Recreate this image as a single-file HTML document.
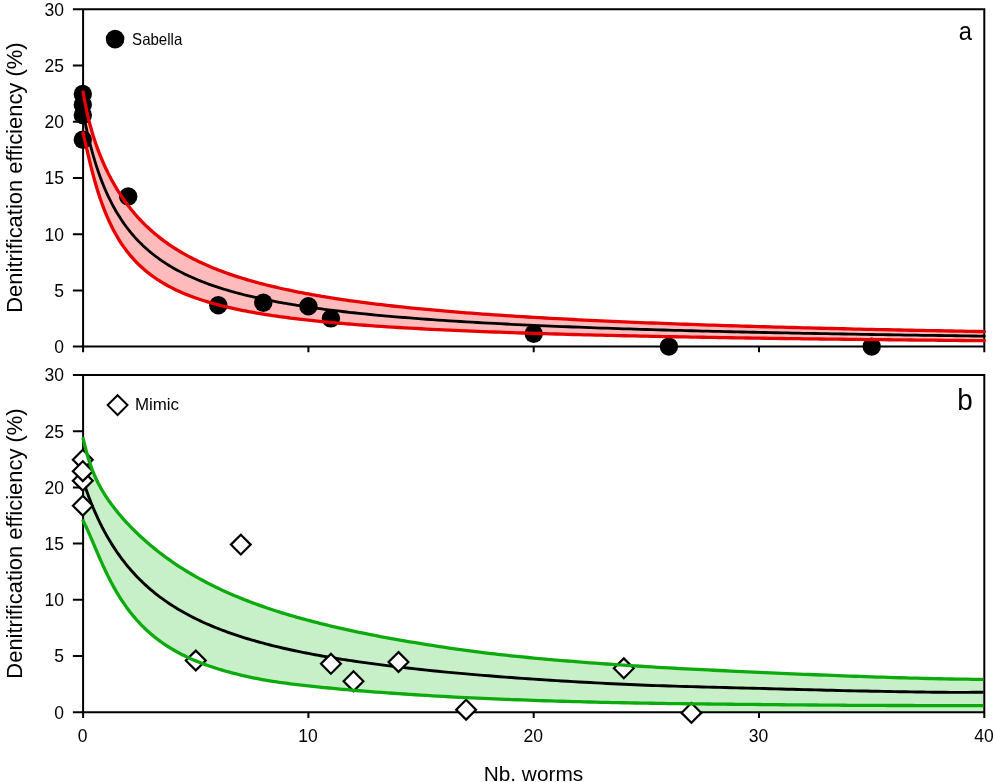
<!DOCTYPE html>
<html lang="en"><head><meta charset="utf-8"><title>Denitrification efficiency vs Nb. worms</title>
<style>html,body{margin:0;padding:0;background:#fff}body{width:995px;height:782px;overflow:hidden}svg{display:block;will-change:transform}</style></head>
<body>
<svg width="995" height="782" viewBox="0 0 995 782">
<rect width="995" height="782" fill="#fff"/>
<defs><clipPath id="clipb"><rect x="0" y="360" width="983.40" height="422"/></clipPath></defs>
<path d="M83.10 91.84L84.23 98.42L85.35 104.44L86.48 109.95L87.61 115.04L88.73 119.76L89.86 124.16L90.99 128.29L92.11 132.19L93.24 135.89L94.36 139.40L95.49 142.77L96.62 145.98L97.74 149.08L98.87 152.06L100.00 154.93L101.12 157.70L102.25 160.39L103.38 162.99L104.50 165.51L105.63 167.95L106.76 170.33L107.88 172.64L109.01 174.88L110.14 177.07L111.26 179.20L112.39 181.27L113.52 183.30L114.64 185.27L115.77 187.19L116.89 189.07L118.02 190.90L119.15 192.69L120.27 194.44L121.40 196.15L122.53 197.82L123.65 199.45L124.78 201.04L125.91 202.61L127.03 204.14L128.16 205.63L129.29 207.10L130.41 208.53L131.54 209.94L132.67 211.32L133.79 212.67L134.92 213.99L136.05 215.29L137.17 216.56L138.30 217.80L139.43 219.03L140.55 220.23L141.68 221.41L142.80 222.56L143.93 223.70L145.06 224.81L146.18 225.90L147.31 226.98L148.44 228.03L149.56 229.07L150.69 230.09L152.94 232.08L155.20 233.99L157.45 235.85L159.70 237.64L161.95 239.38L164.21 241.07L166.46 242.70L168.71 244.28L170.97 245.81L173.22 247.30L175.47 248.75L177.73 250.15L179.98 251.51L182.23 252.84L184.49 254.13L186.74 255.38L188.99 256.60L191.24 257.79L193.50 258.95L195.75 260.08L198.00 261.18L200.26 262.25L202.51 263.29L204.76 264.31L207.01 265.31L209.27 266.28L211.52 267.22L213.77 268.15L216.03 269.06L218.28 269.94L220.53 270.80L222.79 271.65L225.04 272.48L227.29 273.28L229.54 274.07L231.80 274.85L234.05 275.61L236.30 276.35L238.56 277.08L240.81 277.79L243.06 278.49L245.32 279.17L247.57 279.84L249.82 280.50L252.08 281.14L254.33 281.77L256.58 282.39L258.83 283.00L261.09 283.60L263.34 284.18L265.59 284.76L267.85 285.32L270.10 285.88L272.35 286.42L274.61 286.96L276.86 287.48L279.11 288.00L281.36 288.51L283.62 289.01L285.87 289.50L288.12 289.98L290.38 290.45L292.63 290.92L294.88 291.38L297.13 291.83L299.39 292.28L301.64 292.71L303.89 293.14L306.15 293.57L308.40 293.99L310.65 294.40L312.91 294.80L315.16 295.20L317.41 295.59L319.66 295.98L321.92 296.36L324.17 296.73L326.42 297.10L328.68 297.47L330.93 297.83L333.18 298.18L335.44 298.53L337.69 298.87L339.94 299.21L342.20 299.55L344.45 299.88L346.70 300.20L348.95 300.52L351.21 300.84L353.46 301.15L359.09 301.92L364.73 302.65L370.36 303.37L375.99 304.06L381.62 304.73L387.25 305.38L392.89 306.01L398.52 306.63L404.15 307.22L409.78 307.80L415.42 308.36L421.05 308.91L426.68 309.44L432.32 309.95L437.95 310.46L443.58 310.95L449.21 311.42L454.85 311.89L460.48 312.34L466.11 312.78L471.74 313.22L477.38 313.64L483.01 314.05L488.64 314.45L494.27 314.84L499.90 315.22L505.54 315.59L511.17 315.96L516.80 316.32L522.44 316.67L528.07 317.01L533.70 317.34L539.33 317.67L544.97 317.99L550.60 318.30L556.23 318.61L561.86 318.91L567.50 319.20L573.13 319.49L578.76 319.78L584.39 320.05L590.02 320.32L595.66 320.59L601.29 320.85L606.92 321.11L612.56 321.36L618.19 321.61L623.82 321.85L629.45 322.09L635.09 322.32L640.72 322.55L646.35 322.78L651.98 323.00L657.62 323.22L663.25 323.43L668.88 323.65L674.51 323.85L680.15 324.06L685.78 324.26L691.41 324.45L697.04 324.65L702.68 324.84L708.31 325.03L713.94 325.21L719.57 325.39L725.21 325.57L730.84 325.75L736.47 325.92L742.10 326.09L747.74 326.26L753.37 326.42L759.00 326.59L764.63 326.75L770.27 326.91L775.90 327.06L781.53 327.22L787.16 327.37L792.80 327.52L798.43 327.66L804.06 327.81L809.69 327.95L815.33 328.09L820.96 328.23L826.59 328.37L832.22 328.51L837.86 328.64L843.49 328.77L849.12 328.90L854.75 329.03L860.39 329.16L866.02 329.28L871.65 329.41L877.28 329.53L882.92 329.65L888.55 329.77L894.18 329.88L899.81 330.00L905.45 330.11L911.08 330.23L916.71 330.34L922.34 330.45L927.98 330.56L933.61 330.66L939.24 330.77L944.87 330.88L950.51 330.98L956.14 331.08L961.77 331.18L967.40 331.28L973.04 331.38L978.67 331.48L984.30 331.58L984.30 340.68L978.67 340.63L973.04 340.58L967.40 340.53L961.77 340.48L956.14 340.43L950.51 340.38L944.87 340.33L939.24 340.27L933.61 340.22L927.98 340.17L922.34 340.11L916.71 340.06L911.08 340.00L905.45 339.94L899.81 339.89L894.18 339.83L888.55 339.77L882.92 339.71L877.28 339.65L871.65 339.59L866.02 339.53L860.39 339.46L854.75 339.40L849.12 339.34L843.49 339.27L837.86 339.20L832.22 339.14L826.59 339.07L820.96 339.00L815.33 338.93L809.69 338.86L804.06 338.79L798.43 338.71L792.80 338.64L787.16 338.56L781.53 338.48L775.90 338.41L770.27 338.33L764.63 338.25L759.00 338.16L753.37 338.08L747.74 338.00L742.10 337.91L736.47 337.82L730.84 337.74L725.21 337.65L719.57 337.55L713.94 337.46L708.31 337.37L702.68 337.27L697.04 337.17L691.41 337.07L685.78 336.97L680.15 336.87L674.51 336.76L668.88 336.66L663.25 336.55L657.62 336.44L651.98 336.32L646.35 336.21L640.72 336.09L635.09 335.97L629.45 335.85L623.82 335.73L618.19 335.60L612.56 335.47L606.92 335.34L601.29 335.20L595.66 335.07L590.02 334.93L584.39 334.78L578.76 334.64L573.13 334.49L567.50 334.34L561.86 334.18L556.23 334.02L550.60 333.86L544.97 333.69L539.33 333.52L533.70 333.35L528.07 333.17L522.44 332.99L516.80 332.80L511.17 332.61L505.54 332.42L499.90 332.22L494.27 332.01L488.64 331.80L483.01 331.58L477.38 331.36L471.74 331.13L466.11 330.90L460.48 330.66L454.85 330.41L449.21 330.15L443.58 329.89L437.95 329.62L432.32 329.34L426.68 329.06L421.05 328.76L415.42 328.46L409.78 328.15L404.15 327.82L398.52 327.49L392.89 327.15L387.25 326.79L381.62 326.42L375.99 326.04L370.36 325.65L364.73 325.24L359.09 324.81L353.46 324.38L351.21 324.19L348.95 324.01L346.70 323.83L344.45 323.64L342.20 323.45L339.94 323.25L337.69 323.05L335.44 322.85L333.18 322.65L330.93 322.44L328.68 322.23L326.42 322.01L324.17 321.80L321.92 321.58L319.66 321.35L317.41 321.12L315.16 320.89L312.91 320.65L310.65 320.41L308.40 320.16L306.15 319.91L303.89 319.66L301.64 319.40L299.39 319.14L297.13 318.87L294.88 318.59L292.63 318.32L290.38 318.03L288.12 317.74L285.87 317.45L283.62 317.15L281.36 316.84L279.11 316.53L276.86 316.21L274.61 315.88L272.35 315.55L270.10 315.21L267.85 314.86L265.59 314.51L263.34 314.15L261.09 313.78L258.83 313.40L256.58 313.02L254.33 312.62L252.08 312.22L249.82 311.81L247.57 311.38L245.32 310.95L243.06 310.51L240.81 310.06L238.56 309.59L236.30 309.12L234.05 308.63L231.80 308.13L229.54 307.62L227.29 307.09L225.04 306.55L222.79 306.00L220.53 305.43L218.28 304.85L216.03 304.25L213.77 303.63L211.52 303.00L209.27 302.34L207.01 301.67L204.76 300.98L202.51 300.26L200.26 299.53L198.00 298.77L195.75 297.99L193.50 297.18L191.24 296.35L188.99 295.49L186.74 294.60L184.49 293.68L182.23 292.72L179.98 291.74L177.73 290.71L175.47 289.65L173.22 288.55L170.97 287.41L168.71 286.23L166.46 284.99L164.21 283.71L161.95 282.37L159.70 280.98L157.45 279.53L155.20 278.01L152.94 276.43L150.69 274.77L149.56 273.92L148.44 273.04L147.31 272.14L146.18 271.23L145.06 270.28L143.93 269.32L142.80 268.33L141.68 267.32L140.55 266.28L139.43 265.22L138.30 264.12L137.17 263.00L136.05 261.85L134.92 260.67L133.79 259.45L132.67 258.20L131.54 256.92L130.41 255.60L129.29 254.24L128.16 252.85L127.03 251.41L125.91 249.93L124.78 248.40L123.65 246.83L122.53 245.21L121.40 243.54L120.27 241.81L119.15 240.03L118.02 238.19L116.89 236.28L115.77 234.32L114.64 232.28L113.52 230.18L112.39 228.00L111.26 225.74L110.14 223.40L109.01 220.98L107.88 218.47L106.76 215.86L105.63 213.15L104.50 210.34L103.38 207.41L102.25 204.38L101.12 201.22L100.00 197.94L98.87 194.53L97.74 190.98L96.62 187.29L95.49 183.46L94.36 179.48L93.24 175.35L92.11 171.07L90.99 166.65L89.86 162.10L88.73 157.41L87.61 152.62L86.48 147.74L85.35 142.80L84.23 137.83L83.10 132.86Z" fill="#ffbbbb"/>
<g stroke="#000" stroke-width="2.0" fill="none" stroke-linecap="butt">
<path d="M72.9 9.3H985.3M984.3 9.3V352.2M83.1 9.3V352.2M72.9 346.6H984.3"/>
<path d="M72.9 290.4H83.1M72.9 234.2H83.1M72.9 177.9H83.1M72.9 121.7H83.1M72.9 65.5H83.1M308.4 346.6V352.2M533.7 346.6V352.2M759.0 346.6V352.2"/>
</g>
<path d="M83.10 112.35L84.23 118.12L85.35 123.62L86.48 128.84L87.61 133.83L88.73 138.58L89.86 143.13L90.99 147.47L92.11 151.63L93.24 155.62L94.36 159.44L95.49 163.11L96.62 166.64L97.74 170.03L98.87 173.29L100.00 176.43L101.12 179.46L102.25 182.38L103.38 185.20L104.50 187.92L105.63 190.55L106.76 193.09L107.88 195.55L109.01 197.93L110.14 200.24L111.26 202.47L112.39 204.64L113.52 206.74L114.64 208.78L115.77 210.75L116.89 212.68L118.02 214.54L119.15 216.36L120.27 218.12L121.40 219.84L122.53 221.51L123.65 223.14L124.78 224.72L125.91 226.27L127.03 227.77L128.16 229.24L129.29 230.67L130.41 232.07L131.54 233.43L132.67 234.76L133.79 236.06L134.92 237.33L136.05 238.57L137.17 239.78L138.30 240.96L139.43 242.12L140.55 243.25L141.68 244.36L142.80 245.45L143.93 246.51L145.06 247.55L146.18 248.56L147.31 249.56L148.44 250.54L149.56 251.49L150.69 252.43L152.94 254.25L155.20 256.00L157.45 257.69L159.70 259.31L161.95 260.88L164.21 262.39L166.46 263.84L168.71 265.25L170.97 266.61L173.22 267.93L175.47 269.20L177.73 270.43L179.98 271.62L182.23 272.78L184.49 273.90L186.74 274.99L188.99 276.05L191.24 277.07L193.50 278.07L195.75 279.03L198.00 279.97L200.26 280.89L202.51 281.78L204.76 282.64L207.01 283.49L209.27 284.31L211.52 285.11L213.77 285.89L216.03 286.65L218.28 287.39L220.53 288.12L222.79 288.82L225.04 289.51L227.29 290.19L229.54 290.85L231.80 291.49L234.05 292.12L236.30 292.73L238.56 293.33L240.81 293.92L243.06 294.50L245.32 295.06L247.57 295.61L249.82 296.15L252.08 296.68L254.33 297.20L256.58 297.70L258.83 298.20L261.09 298.69L263.34 299.17L265.59 299.63L267.85 300.09L270.10 300.54L272.35 300.99L274.61 301.42L276.86 301.85L279.11 302.26L281.36 302.67L283.62 303.08L285.87 303.47L288.12 303.86L290.38 304.24L292.63 304.62L294.88 304.99L297.13 305.35L299.39 305.71L301.64 306.06L303.89 306.40L306.15 306.74L308.40 307.07L310.65 307.40L312.91 307.73L315.16 308.04L317.41 308.36L319.66 308.66L321.92 308.97L324.17 309.27L326.42 309.56L328.68 309.85L330.93 310.13L333.18 310.41L335.44 310.69L337.69 310.96L339.94 311.23L342.20 311.50L344.45 311.76L346.70 312.01L348.95 312.27L351.21 312.52L353.46 312.76L359.09 313.37L364.73 313.95L370.36 314.51L375.99 315.05L381.62 315.58L387.25 316.09L392.89 316.58L398.52 317.06L404.15 317.52L409.78 317.97L415.42 318.41L421.05 318.84L426.68 319.25L432.32 319.65L437.95 320.04L443.58 320.42L449.21 320.79L454.85 321.15L460.48 321.50L466.11 321.84L471.74 322.17L477.38 322.50L483.01 322.81L488.64 323.12L494.27 323.42L499.90 323.72L505.54 324.01L511.17 324.29L516.80 324.56L522.44 324.83L528.07 325.09L533.70 325.35L539.33 325.60L544.97 325.84L550.60 326.08L556.23 326.32L561.86 326.55L567.50 326.77L573.13 326.99L578.76 327.21L584.39 327.42L590.02 327.63L595.66 327.83L601.29 328.03L606.92 328.22L612.56 328.42L618.19 328.60L623.82 328.79L629.45 328.97L635.09 329.15L640.72 329.32L646.35 329.49L651.98 329.66L657.62 329.83L663.25 329.99L668.88 330.15L674.51 330.31L680.15 330.46L685.78 330.61L691.41 330.76L697.04 330.91L702.68 331.05L708.31 331.20L713.94 331.34L719.57 331.47L725.21 331.61L730.84 331.74L736.47 331.87L742.10 332.00L747.74 332.13L753.37 332.25L759.00 332.38L764.63 332.50L770.27 332.62L775.90 332.73L781.53 332.85L787.16 332.96L792.80 333.08L798.43 333.19L804.06 333.30L809.69 333.41L815.33 333.51L820.96 333.62L826.59 333.72L832.22 333.82L837.86 333.92L843.49 334.02L849.12 334.12L854.75 334.22L860.39 334.31L866.02 334.40L871.65 334.50L877.28 334.59L882.92 334.68L888.55 334.77L894.18 334.86L899.81 334.94L905.45 335.03L911.08 335.11L916.71 335.20L922.34 335.28L927.98 335.36L933.61 335.44L939.24 335.52L944.87 335.60L950.51 335.68L956.14 335.76L961.77 335.83L967.40 335.91L973.04 335.98L978.67 336.05L984.30 336.13" fill="none" stroke="#000" stroke-width="2.8" stroke-linecap="round" stroke-linejoin="round"/>
<circle cx="82.8" cy="94.0" r="9.2" fill="#000"/>
<circle cx="82.8" cy="104.8" r="9.2" fill="#000"/>
<circle cx="82.8" cy="115.0" r="9.2" fill="#000"/>
<circle cx="82.8" cy="139.7" r="9.2" fill="#000"/>
<circle cx="128.2" cy="196.4" r="9.2" fill="#000"/>
<circle cx="218.3" cy="305.3" r="9.2" fill="#000"/>
<circle cx="263.3" cy="302.7" r="9.2" fill="#000"/>
<circle cx="308.4" cy="306.3" r="9.2" fill="#000"/>
<circle cx="330.9" cy="318.4" r="9.2" fill="#000"/>
<circle cx="533.7" cy="333.7" r="9.2" fill="#000"/>
<circle cx="668.9" cy="346.6" r="9.2" fill="#000"/>
<circle cx="871.7" cy="346.6" r="9.2" fill="#000"/>
<path d="M83.10 91.84L84.23 98.42L85.35 104.44L86.48 109.95L87.61 115.04L88.73 119.76L89.86 124.16L90.99 128.29L92.11 132.19L93.24 135.89L94.36 139.40L95.49 142.77L96.62 145.98L97.74 149.08L98.87 152.06L100.00 154.93L101.12 157.70L102.25 160.39L103.38 162.99L104.50 165.51L105.63 167.95L106.76 170.33L107.88 172.64L109.01 174.88L110.14 177.07L111.26 179.20L112.39 181.27L113.52 183.30L114.64 185.27L115.77 187.19L116.89 189.07L118.02 190.90L119.15 192.69L120.27 194.44L121.40 196.15L122.53 197.82L123.65 199.45L124.78 201.04L125.91 202.61L127.03 204.14L128.16 205.63L129.29 207.10L130.41 208.53L131.54 209.94L132.67 211.32L133.79 212.67L134.92 213.99L136.05 215.29L137.17 216.56L138.30 217.80L139.43 219.03L140.55 220.23L141.68 221.41L142.80 222.56L143.93 223.70L145.06 224.81L146.18 225.90L147.31 226.98L148.44 228.03L149.56 229.07L150.69 230.09L152.94 232.08L155.20 233.99L157.45 235.85L159.70 237.64L161.95 239.38L164.21 241.07L166.46 242.70L168.71 244.28L170.97 245.81L173.22 247.30L175.47 248.75L177.73 250.15L179.98 251.51L182.23 252.84L184.49 254.13L186.74 255.38L188.99 256.60L191.24 257.79L193.50 258.95L195.75 260.08L198.00 261.18L200.26 262.25L202.51 263.29L204.76 264.31L207.01 265.31L209.27 266.28L211.52 267.22L213.77 268.15L216.03 269.06L218.28 269.94L220.53 270.80L222.79 271.65L225.04 272.48L227.29 273.28L229.54 274.07L231.80 274.85L234.05 275.61L236.30 276.35L238.56 277.08L240.81 277.79L243.06 278.49L245.32 279.17L247.57 279.84L249.82 280.50L252.08 281.14L254.33 281.77L256.58 282.39L258.83 283.00L261.09 283.60L263.34 284.18L265.59 284.76L267.85 285.32L270.10 285.88L272.35 286.42L274.61 286.96L276.86 287.48L279.11 288.00L281.36 288.51L283.62 289.01L285.87 289.50L288.12 289.98L290.38 290.45L292.63 290.92L294.88 291.38L297.13 291.83L299.39 292.28L301.64 292.71L303.89 293.14L306.15 293.57L308.40 293.99L310.65 294.40L312.91 294.80L315.16 295.20L317.41 295.59L319.66 295.98L321.92 296.36L324.17 296.73L326.42 297.10L328.68 297.47L330.93 297.83L333.18 298.18L335.44 298.53L337.69 298.87L339.94 299.21L342.20 299.55L344.45 299.88L346.70 300.20L348.95 300.52L351.21 300.84L353.46 301.15L359.09 301.92L364.73 302.65L370.36 303.37L375.99 304.06L381.62 304.73L387.25 305.38L392.89 306.01L398.52 306.63L404.15 307.22L409.78 307.80L415.42 308.36L421.05 308.91L426.68 309.44L432.32 309.95L437.95 310.46L443.58 310.95L449.21 311.42L454.85 311.89L460.48 312.34L466.11 312.78L471.74 313.22L477.38 313.64L483.01 314.05L488.64 314.45L494.27 314.84L499.90 315.22L505.54 315.59L511.17 315.96L516.80 316.32L522.44 316.67L528.07 317.01L533.70 317.34L539.33 317.67L544.97 317.99L550.60 318.30L556.23 318.61L561.86 318.91L567.50 319.20L573.13 319.49L578.76 319.78L584.39 320.05L590.02 320.32L595.66 320.59L601.29 320.85L606.92 321.11L612.56 321.36L618.19 321.61L623.82 321.85L629.45 322.09L635.09 322.32L640.72 322.55L646.35 322.78L651.98 323.00L657.62 323.22L663.25 323.43L668.88 323.65L674.51 323.85L680.15 324.06L685.78 324.26L691.41 324.45L697.04 324.65L702.68 324.84L708.31 325.03L713.94 325.21L719.57 325.39L725.21 325.57L730.84 325.75L736.47 325.92L742.10 326.09L747.74 326.26L753.37 326.42L759.00 326.59L764.63 326.75L770.27 326.91L775.90 327.06L781.53 327.22L787.16 327.37L792.80 327.52L798.43 327.66L804.06 327.81L809.69 327.95L815.33 328.09L820.96 328.23L826.59 328.37L832.22 328.51L837.86 328.64L843.49 328.77L849.12 328.90L854.75 329.03L860.39 329.16L866.02 329.28L871.65 329.41L877.28 329.53L882.92 329.65L888.55 329.77L894.18 329.88L899.81 330.00L905.45 330.11L911.08 330.23L916.71 330.34L922.34 330.45L927.98 330.56L933.61 330.66L939.24 330.77L944.87 330.88L950.51 330.98L956.14 331.08L961.77 331.18L967.40 331.28L973.04 331.38L978.67 331.48L984.30 331.58" fill="none" stroke="#e60000" stroke-width="3.3" stroke-linecap="round" stroke-linejoin="round"/>
<path d="M83.10 132.86L84.23 137.83L85.35 142.80L86.48 147.74L87.61 152.62L88.73 157.41L89.86 162.10L90.99 166.65L92.11 171.07L93.24 175.35L94.36 179.48L95.49 183.46L96.62 187.29L97.74 190.98L98.87 194.53L100.00 197.94L101.12 201.22L102.25 204.38L103.38 207.41L104.50 210.34L105.63 213.15L106.76 215.86L107.88 218.47L109.01 220.98L110.14 223.40L111.26 225.74L112.39 228.00L113.52 230.18L114.64 232.28L115.77 234.32L116.89 236.28L118.02 238.19L119.15 240.03L120.27 241.81L121.40 243.54L122.53 245.21L123.65 246.83L124.78 248.40L125.91 249.93L127.03 251.41L128.16 252.85L129.29 254.24L130.41 255.60L131.54 256.92L132.67 258.20L133.79 259.45L134.92 260.67L136.05 261.85L137.17 263.00L138.30 264.12L139.43 265.22L140.55 266.28L141.68 267.32L142.80 268.33L143.93 269.32L145.06 270.28L146.18 271.23L147.31 272.14L148.44 273.04L149.56 273.92L150.69 274.77L152.94 276.43L155.20 278.01L157.45 279.53L159.70 280.98L161.95 282.37L164.21 283.71L166.46 284.99L168.71 286.23L170.97 287.41L173.22 288.55L175.47 289.65L177.73 290.71L179.98 291.74L182.23 292.72L184.49 293.68L186.74 294.60L188.99 295.49L191.24 296.35L193.50 297.18L195.75 297.99L198.00 298.77L200.26 299.53L202.51 300.26L204.76 300.98L207.01 301.67L209.27 302.34L211.52 303.00L213.77 303.63L216.03 304.25L218.28 304.85L220.53 305.43L222.79 306.00L225.04 306.55L227.29 307.09L229.54 307.62L231.80 308.13L234.05 308.63L236.30 309.12L238.56 309.59L240.81 310.06L243.06 310.51L245.32 310.95L247.57 311.38L249.82 311.81L252.08 312.22L254.33 312.62L256.58 313.02L258.83 313.40L261.09 313.78L263.34 314.15L265.59 314.51L267.85 314.86L270.10 315.21L272.35 315.55L274.61 315.88L276.86 316.21L279.11 316.53L281.36 316.84L283.62 317.15L285.87 317.45L288.12 317.74L290.38 318.03L292.63 318.32L294.88 318.59L297.13 318.87L299.39 319.14L301.64 319.40L303.89 319.66L306.15 319.91L308.40 320.16L310.65 320.41L312.91 320.65L315.16 320.89L317.41 321.12L319.66 321.35L321.92 321.58L324.17 321.80L326.42 322.01L328.68 322.23L330.93 322.44L333.18 322.65L335.44 322.85L337.69 323.05L339.94 323.25L342.20 323.45L344.45 323.64L346.70 323.83L348.95 324.01L351.21 324.19L353.46 324.38L359.09 324.81L364.73 325.24L370.36 325.65L375.99 326.04L381.62 326.42L387.25 326.79L392.89 327.15L398.52 327.49L404.15 327.82L409.78 328.15L415.42 328.46L421.05 328.76L426.68 329.06L432.32 329.34L437.95 329.62L443.58 329.89L449.21 330.15L454.85 330.41L460.48 330.66L466.11 330.90L471.74 331.13L477.38 331.36L483.01 331.58L488.64 331.80L494.27 332.01L499.90 332.22L505.54 332.42L511.17 332.61L516.80 332.80L522.44 332.99L528.07 333.17L533.70 333.35L539.33 333.52L544.97 333.69L550.60 333.86L556.23 334.02L561.86 334.18L567.50 334.34L573.13 334.49L578.76 334.64L584.39 334.78L590.02 334.93L595.66 335.07L601.29 335.20L606.92 335.34L612.56 335.47L618.19 335.60L623.82 335.73L629.45 335.85L635.09 335.97L640.72 336.09L646.35 336.21L651.98 336.32L657.62 336.44L663.25 336.55L668.88 336.66L674.51 336.76L680.15 336.87L685.78 336.97L691.41 337.07L697.04 337.17L702.68 337.27L708.31 337.37L713.94 337.46L719.57 337.55L725.21 337.65L730.84 337.74L736.47 337.82L742.10 337.91L747.74 338.00L753.37 338.08L759.00 338.16L764.63 338.25L770.27 338.33L775.90 338.41L781.53 338.48L787.16 338.56L792.80 338.64L798.43 338.71L804.06 338.79L809.69 338.86L815.33 338.93L820.96 339.00L826.59 339.07L832.22 339.14L837.86 339.20L843.49 339.27L849.12 339.34L854.75 339.40L860.39 339.46L866.02 339.53L871.65 339.59L877.28 339.65L882.92 339.71L888.55 339.77L894.18 339.83L899.81 339.89L905.45 339.94L911.08 340.00L916.71 340.06L922.34 340.11L927.98 340.17L933.61 340.22L939.24 340.27L944.87 340.33L950.51 340.38L956.14 340.43L961.77 340.48L967.40 340.53L973.04 340.58L978.67 340.63L984.30 340.68" fill="none" stroke="#e60000" stroke-width="3.3" stroke-linecap="round" stroke-linejoin="round"/>
<g font-family="'Liberation Sans', Arial, sans-serif" font-size="17.5" fill="#000" text-anchor="end">
<text x="64" y="352.9">0</text>
<text x="64" y="296.7">5</text>
<text x="64" y="240.5">10</text>
<text x="64" y="184.2">15</text>
<text x="64" y="128.0">20</text>
<text x="64" y="71.8">25</text>
<text x="64" y="15.6">30</text>
</g>
<text transform="translate(21.9 177.6) rotate(-90)" font-family="'Liberation Sans', Arial, sans-serif" font-size="21.95" text-anchor="middle" fill="#000">Denitrification efficiency (%)</text>
<path d="M83.10 438.39L84.23 443.24L85.35 447.77L86.48 452.00L87.61 455.95L88.73 459.65L89.86 463.11L90.99 466.35L92.11 469.39L93.24 472.26L94.36 474.96L95.49 477.52L96.62 479.94L97.74 482.25L98.87 484.46L100.00 486.56L101.12 488.59L102.25 490.54L103.38 492.42L104.50 494.24L105.63 496.00L106.76 497.71L107.88 499.37L109.01 500.99L110.14 502.57L111.26 504.12L112.39 505.63L113.52 507.11L114.64 508.56L115.77 509.99L116.89 511.38L118.02 512.76L119.15 514.11L120.27 515.44L121.40 516.75L122.53 518.04L123.65 519.31L124.78 520.56L125.91 521.80L127.03 523.01L128.16 524.22L129.29 525.40L130.41 526.57L131.54 527.73L132.67 528.87L133.79 530.00L134.92 531.11L136.05 532.21L137.17 533.30L138.30 534.38L139.43 535.44L140.55 536.49L141.68 537.53L142.80 538.55L143.93 539.57L145.06 540.57L146.18 541.57L147.31 542.55L148.44 543.52L149.56 544.48L150.69 545.43L152.94 547.31L155.20 549.14L157.45 550.93L159.70 552.69L161.95 554.41L164.21 556.10L166.46 557.75L168.71 559.37L170.97 560.96L173.22 562.52L175.47 564.05L177.73 565.55L179.98 567.02L182.23 568.46L184.49 569.88L186.74 571.27L188.99 572.63L191.24 573.97L193.50 575.28L195.75 576.57L198.00 577.84L200.26 579.09L202.51 580.31L204.76 581.51L207.01 582.69L209.27 583.85L211.52 584.99L213.77 586.12L216.03 587.22L218.28 588.30L220.53 589.37L222.79 590.41L225.04 591.45L227.29 592.46L229.54 593.46L231.80 594.44L234.05 595.40L236.30 596.35L238.56 597.29L240.81 598.21L243.06 599.12L245.32 600.01L247.57 600.89L249.82 601.75L252.08 602.61L254.33 603.45L256.58 604.27L258.83 605.09L261.09 605.89L263.34 606.68L265.59 607.46L267.85 608.23L270.10 608.99L272.35 609.73L274.61 610.47L276.86 611.20L279.11 611.91L281.36 612.62L283.62 613.31L285.87 614.00L288.12 614.68L290.38 615.34L292.63 616.00L294.88 616.65L297.13 617.30L299.39 617.93L301.64 618.55L303.89 619.17L306.15 619.78L308.40 620.38L310.65 620.97L312.91 621.56L315.16 622.14L317.41 622.71L319.66 623.28L321.92 623.85L324.17 624.40L326.42 624.95L328.68 625.50L330.93 626.04L333.18 626.57L335.44 627.10L337.69 627.62L339.94 628.13L342.20 628.65L344.45 629.15L346.70 629.65L348.95 630.15L351.21 630.64L353.46 631.12L359.09 632.32L364.73 633.48L370.36 634.61L375.99 635.71L381.62 636.79L387.25 637.84L392.89 638.86L398.52 639.85L404.15 640.83L409.78 641.79L415.42 642.73L421.05 643.66L426.68 644.57L432.32 645.46L437.95 646.34L443.58 647.20L449.21 648.04L454.85 648.85L460.48 649.65L466.11 650.43L471.74 651.19L477.38 651.92L483.01 652.63L488.64 653.31L494.27 653.97L499.90 654.60L505.54 655.22L511.17 655.81L516.80 656.39L522.44 656.96L528.07 657.51L533.70 658.05L539.33 658.57L544.97 659.08L550.60 659.58L556.23 660.07L561.86 660.55L567.50 661.01L573.13 661.47L578.76 661.91L584.39 662.35L590.02 662.78L595.66 663.20L601.29 663.61L606.92 664.01L612.56 664.41L618.19 664.80L623.82 665.18L629.45 665.55L635.09 665.92L640.72 666.27L646.35 666.62L651.98 666.96L657.62 667.29L663.25 667.61L668.88 667.92L674.51 668.23L680.15 668.53L685.78 668.83L691.41 669.12L697.04 669.40L702.68 669.68L708.31 669.96L713.94 670.23L719.57 670.50L725.21 670.77L730.84 671.03L736.47 671.29L742.10 671.55L747.74 671.81L753.37 672.06L759.00 672.32L764.63 672.57L770.27 672.82L775.90 673.07L781.53 673.32L787.16 673.56L792.80 673.81L798.43 674.05L804.06 674.28L809.69 674.52L815.33 674.75L820.96 674.98L826.59 675.20L832.22 675.42L837.86 675.64L843.49 675.85L849.12 676.06L854.75 676.26L860.39 676.46L866.02 676.66L871.65 676.85L877.28 677.03L882.92 677.21L888.55 677.39L894.18 677.56L899.81 677.73L905.45 677.89L911.08 678.05L916.71 678.20L922.34 678.35L927.98 678.49L933.61 678.63L939.24 678.76L944.87 678.88L950.51 678.98L956.14 679.07L961.77 679.15L967.40 679.22L973.04 679.28L978.67 679.34L984.30 679.39L984.30 712.30L699.30 712.30L691.41 703.82L685.78 703.75L680.15 703.68L674.51 703.60L668.88 703.53L663.25 703.45L657.62 703.36L651.98 703.27L646.35 703.18L640.72 703.09L635.09 702.99L629.45 702.88L623.82 702.77L618.19 702.65L612.56 702.53L606.92 702.41L601.29 702.28L595.66 702.15L590.02 702.01L584.39 701.86L578.76 701.72L573.13 701.56L567.50 701.40L561.86 701.24L556.23 701.08L550.60 700.90L544.97 700.73L539.33 700.55L533.70 700.36L528.07 700.17L522.44 699.97L516.80 699.77L511.17 699.56L505.54 699.35L499.90 699.13L494.27 698.91L488.64 698.68L483.01 698.44L477.38 698.19L471.74 697.93L466.11 697.66L460.48 697.37L454.85 697.07L449.21 696.77L443.58 696.45L437.95 696.13L432.32 695.79L426.68 695.45L421.05 695.10L415.42 694.75L409.78 694.38L404.15 694.01L398.52 693.63L392.89 693.25L387.25 692.86L381.62 692.46L375.99 692.06L370.36 691.64L364.73 691.21L359.09 690.76L353.46 690.30L351.21 690.10L348.95 689.91L346.70 689.71L344.45 689.51L342.20 689.30L339.94 689.09L337.69 688.88L335.44 688.66L333.18 688.44L330.93 688.22L328.68 687.99L326.42 687.75L324.17 687.52L321.92 687.27L319.66 687.03L317.41 686.78L315.16 686.54L312.91 686.29L310.65 686.05L308.40 685.81L306.15 685.57L303.89 685.32L301.64 685.07L299.39 684.82L297.13 684.57L294.88 684.31L292.63 684.05L290.38 683.78L288.12 683.50L285.87 683.22L283.62 682.93L281.36 682.62L279.11 682.31L276.86 681.99L274.61 681.65L272.35 681.30L270.10 680.94L267.85 680.56L265.59 680.17L263.34 679.76L261.09 679.34L258.83 678.91L256.58 678.47L254.33 678.01L252.08 677.55L249.82 677.07L247.57 676.59L245.32 676.09L243.06 675.58L240.81 675.05L238.56 674.51L236.30 673.96L234.05 673.39L231.80 672.81L229.54 672.21L227.29 671.60L225.04 670.97L222.79 670.32L220.53 669.65L218.28 668.97L216.03 668.26L213.77 667.54L211.52 666.79L209.27 666.02L207.01 665.23L204.76 664.41L202.51 663.57L200.26 662.70L198.00 661.81L195.75 660.88L193.50 659.93L191.24 658.94L188.99 657.93L186.74 656.87L184.49 655.79L182.23 654.66L179.98 653.50L177.73 652.29L175.47 651.04L173.22 649.75L170.97 648.41L168.71 647.01L166.46 645.57L164.21 644.07L161.95 642.51L159.70 640.89L157.45 639.21L155.20 637.46L152.94 635.63L150.69 633.73L149.56 632.75L148.44 631.75L147.31 630.73L146.18 629.69L145.06 628.62L143.93 627.53L142.80 626.42L141.68 625.28L140.55 624.12L139.43 622.93L138.30 621.72L137.17 620.48L136.05 619.21L134.92 617.91L133.79 616.59L132.67 615.23L131.54 613.84L130.41 612.42L129.29 610.97L128.16 609.48L127.03 607.96L125.91 606.40L124.78 604.81L123.65 603.18L122.53 601.51L121.40 599.80L120.27 598.05L119.15 596.26L118.02 594.42L116.89 592.55L115.77 590.63L114.64 588.66L113.52 586.65L112.39 584.58L111.26 582.47L110.14 580.31L109.01 578.10L107.88 575.85L106.76 573.54L105.63 571.19L104.50 568.79L103.38 566.36L102.25 563.88L101.12 561.36L100.00 558.81L98.87 556.22L97.74 553.62L96.62 550.99L95.49 548.36L94.36 545.73L93.24 543.08L92.11 540.44L90.99 537.80L89.86 535.18L88.73 532.61L87.61 530.09L86.48 527.65L85.35 525.30L84.23 523.06L83.10 520.94Z" fill="#c8f0c8"/>
<g stroke="#000" stroke-width="2.0" fill="none" stroke-linecap="butt">
<path d="M72.9 374.9H985.3M984.3 374.9V717.9M83.1 374.9V717.9M72.9 712.3H984.3"/>
<path d="M72.9 656.1H83.1M72.9 599.8H83.1M72.9 543.6H83.1M72.9 487.4H83.1M72.9 431.2H83.1M308.4 712.3V717.9M533.7 712.3V717.9M759.0 712.3V717.9"/>
</g>
<path d="M83.10 480.61L84.23 484.01L85.35 487.31L86.48 490.51L87.61 493.62L88.73 496.65L89.86 499.59L90.99 502.45L92.11 505.24L93.24 507.95L94.36 510.59L95.49 513.17L96.62 515.67L97.74 518.12L98.87 520.50L100.00 522.83L101.12 525.10L102.25 527.32L103.38 529.48L104.50 531.60L105.63 533.66L106.76 535.68L107.88 537.65L109.01 539.58L110.14 541.47L111.26 543.31L112.39 545.12L113.52 546.88L114.64 548.61L115.77 550.31L116.89 551.97L118.02 553.59L119.15 555.18L120.27 556.74L121.40 558.27L122.53 559.77L123.65 561.24L124.78 562.68L125.91 564.10L127.03 565.49L128.16 566.85L129.29 568.19L130.41 569.50L131.54 570.79L132.67 572.05L133.79 573.29L134.92 574.51L136.05 575.71L137.17 576.89L138.30 578.05L139.43 579.19L140.55 580.31L141.68 581.41L142.80 582.49L143.93 583.55L145.06 584.60L146.18 585.63L147.31 586.64L148.44 587.64L149.56 588.62L150.69 589.58L152.94 591.47L155.20 593.30L157.45 595.07L159.70 596.79L161.95 598.46L164.21 600.08L166.46 601.66L168.71 603.19L170.97 604.68L173.22 606.13L175.47 607.55L177.73 608.92L179.98 610.26L182.23 611.56L184.49 612.83L186.74 614.07L188.99 615.28L191.24 616.46L193.50 617.61L195.75 618.73L198.00 619.82L200.26 620.89L202.51 621.94L204.76 622.96L207.01 623.96L209.27 624.94L211.52 625.89L213.77 626.83L216.03 627.74L218.28 628.63L220.53 629.51L222.79 630.37L225.04 631.21L227.29 632.03L229.54 632.83L231.80 633.62L234.05 634.40L236.30 635.16L238.56 635.90L240.81 636.63L243.06 637.35L245.32 638.05L247.57 638.74L249.82 639.41L252.08 640.08L254.33 640.73L256.58 641.37L258.83 642.00L261.09 642.62L263.34 643.22L265.59 643.82L267.85 644.40L270.10 644.98L272.35 645.55L274.61 646.10L276.86 646.65L279.11 647.19L281.36 647.72L283.62 648.24L285.87 648.75L288.12 649.25L290.38 649.75L292.63 650.24L294.88 650.72L297.13 651.19L299.39 651.66L301.64 652.12L303.89 652.57L306.15 653.01L308.40 653.45L310.65 653.88L312.91 654.31L315.16 654.73L317.41 655.14L319.66 655.55L321.92 655.95L324.17 656.35L326.42 656.74L328.68 657.12L330.93 657.50L333.18 657.88L335.44 658.24L337.69 658.61L339.94 658.97L342.20 659.32L344.45 659.67L346.70 660.02L348.95 660.36L351.21 660.69L353.46 661.03L359.09 661.84L364.73 662.63L370.36 663.40L375.99 664.15L381.62 664.88L387.25 665.59L392.89 666.28L398.52 666.96L404.15 667.62L409.78 668.26L415.42 668.89L421.05 669.51L426.68 670.11L432.32 670.69L437.95 671.26L443.58 671.82L449.21 672.36L454.85 672.89L460.48 673.41L466.11 673.92L471.74 674.41L477.38 674.89L483.01 675.36L488.64 675.82L494.27 676.26L499.90 676.70L505.54 677.12L511.17 677.54L516.80 677.94L522.44 678.35L528.07 678.74L533.70 679.12L539.33 679.50L544.97 679.87L550.60 680.24L556.23 680.59L561.86 680.94L567.50 681.28L573.13 681.61L578.76 681.94L584.39 682.26L590.02 682.57L595.66 682.87L601.29 683.17L606.92 683.46L612.56 683.74L618.19 684.01L623.82 684.27L629.45 684.53L635.09 684.77L640.72 685.00L646.35 685.22L651.98 685.43L657.62 685.63L663.25 685.82L668.88 686.00L674.51 686.17L680.15 686.34L685.78 686.51L691.41 686.66L697.04 686.82L702.68 686.97L708.31 687.11L713.94 687.26L719.57 687.40L725.21 687.54L730.84 687.68L736.47 687.83L742.10 687.97L747.74 688.12L753.37 688.26L759.00 688.42L764.63 688.57L770.27 688.72L775.90 688.88L781.53 689.03L787.16 689.18L792.80 689.32L798.43 689.47L804.06 689.62L809.69 689.76L815.33 689.90L820.96 690.04L826.59 690.18L832.22 690.31L837.86 690.45L843.49 690.58L849.12 690.70L854.75 690.83L860.39 690.95L866.02 691.06L871.65 691.18L877.28 691.29L882.92 691.40L888.55 691.50L894.18 691.60L899.81 691.70L905.45 691.80L911.08 691.89L916.71 691.97L922.34 692.05L927.98 692.13L933.61 692.20L939.24 692.26L944.87 692.31L950.51 692.34L956.14 692.35L961.77 692.35L967.40 692.33L973.04 692.31L978.67 692.28L984.30 692.24" fill="none" stroke="#000" stroke-width="2.9" stroke-linecap="round" stroke-linejoin="round" clip-path="url(#clipb)"/>
<path d="M82.8 449.8L92.7 459.7L82.8 469.6L72.9 459.7Z" fill="#fff" stroke="#000" stroke-width="2.2"/>
<path d="M82.8 470.8L92.7 480.7L82.8 490.6L72.9 480.7Z" fill="#fff" stroke="#000" stroke-width="2.2"/>
<path d="M82.8 461.3L92.7 471.2L82.8 481.1L72.9 471.2Z" fill="#fff" stroke="#000" stroke-width="2.2"/>
<path d="M82.8 495.8L92.7 505.7L82.8 515.6L72.9 505.7Z" fill="#fff" stroke="#000" stroke-width="2.2"/>
<path d="M195.8 650.6L205.7 660.5L195.8 670.4L185.8 660.5Z" fill="#fff" stroke="#000" stroke-width="2.2"/>
<path d="M240.8 534.7L250.7 544.6L240.8 554.5L230.9 544.6Z" fill="#fff" stroke="#000" stroke-width="2.2"/>
<path d="M330.9 653.9L340.8 663.8L330.9 673.7L321.0 663.8Z" fill="#fff" stroke="#000" stroke-width="2.2"/>
<path d="M353.5 671.3L363.4 681.2L353.5 691.1L343.6 681.2Z" fill="#fff" stroke="#000" stroke-width="2.2"/>
<path d="M398.5 652.1L408.4 662.0L398.5 671.9L388.6 662.0Z" fill="#fff" stroke="#000" stroke-width="2.2"/>
<path d="M466.1 699.8L476.0 709.7L466.1 719.6L456.2 709.7Z" fill="#fff" stroke="#000" stroke-width="2.2"/>
<path d="M623.8 658.4L633.7 668.3L623.8 678.2L613.9 668.3Z" fill="#fff" stroke="#000" stroke-width="2.2"/>
<path d="M691.4 703.0L701.3 712.9L691.4 722.8L681.5 712.9Z" fill="#fff" stroke="#000" stroke-width="2.2"/>
<path d="M83.10 438.39L84.23 443.24L85.35 447.77L86.48 452.00L87.61 455.95L88.73 459.65L89.86 463.11L90.99 466.35L92.11 469.39L93.24 472.26L94.36 474.96L95.49 477.52L96.62 479.94L97.74 482.25L98.87 484.46L100.00 486.56L101.12 488.59L102.25 490.54L103.38 492.42L104.50 494.24L105.63 496.00L106.76 497.71L107.88 499.37L109.01 500.99L110.14 502.57L111.26 504.12L112.39 505.63L113.52 507.11L114.64 508.56L115.77 509.99L116.89 511.38L118.02 512.76L119.15 514.11L120.27 515.44L121.40 516.75L122.53 518.04L123.65 519.31L124.78 520.56L125.91 521.80L127.03 523.01L128.16 524.22L129.29 525.40L130.41 526.57L131.54 527.73L132.67 528.87L133.79 530.00L134.92 531.11L136.05 532.21L137.17 533.30L138.30 534.38L139.43 535.44L140.55 536.49L141.68 537.53L142.80 538.55L143.93 539.57L145.06 540.57L146.18 541.57L147.31 542.55L148.44 543.52L149.56 544.48L150.69 545.43L152.94 547.31L155.20 549.14L157.45 550.93L159.70 552.69L161.95 554.41L164.21 556.10L166.46 557.75L168.71 559.37L170.97 560.96L173.22 562.52L175.47 564.05L177.73 565.55L179.98 567.02L182.23 568.46L184.49 569.88L186.74 571.27L188.99 572.63L191.24 573.97L193.50 575.28L195.75 576.57L198.00 577.84L200.26 579.09L202.51 580.31L204.76 581.51L207.01 582.69L209.27 583.85L211.52 584.99L213.77 586.12L216.03 587.22L218.28 588.30L220.53 589.37L222.79 590.41L225.04 591.45L227.29 592.46L229.54 593.46L231.80 594.44L234.05 595.40L236.30 596.35L238.56 597.29L240.81 598.21L243.06 599.12L245.32 600.01L247.57 600.89L249.82 601.75L252.08 602.61L254.33 603.45L256.58 604.27L258.83 605.09L261.09 605.89L263.34 606.68L265.59 607.46L267.85 608.23L270.10 608.99L272.35 609.73L274.61 610.47L276.86 611.20L279.11 611.91L281.36 612.62L283.62 613.31L285.87 614.00L288.12 614.68L290.38 615.34L292.63 616.00L294.88 616.65L297.13 617.30L299.39 617.93L301.64 618.55L303.89 619.17L306.15 619.78L308.40 620.38L310.65 620.97L312.91 621.56L315.16 622.14L317.41 622.71L319.66 623.28L321.92 623.85L324.17 624.40L326.42 624.95L328.68 625.50L330.93 626.04L333.18 626.57L335.44 627.10L337.69 627.62L339.94 628.13L342.20 628.65L344.45 629.15L346.70 629.65L348.95 630.15L351.21 630.64L353.46 631.12L359.09 632.32L364.73 633.48L370.36 634.61L375.99 635.71L381.62 636.79L387.25 637.84L392.89 638.86L398.52 639.85L404.15 640.83L409.78 641.79L415.42 642.73L421.05 643.66L426.68 644.57L432.32 645.46L437.95 646.34L443.58 647.20L449.21 648.04L454.85 648.85L460.48 649.65L466.11 650.43L471.74 651.19L477.38 651.92L483.01 652.63L488.64 653.31L494.27 653.97L499.90 654.60L505.54 655.22L511.17 655.81L516.80 656.39L522.44 656.96L528.07 657.51L533.70 658.05L539.33 658.57L544.97 659.08L550.60 659.58L556.23 660.07L561.86 660.55L567.50 661.01L573.13 661.47L578.76 661.91L584.39 662.35L590.02 662.78L595.66 663.20L601.29 663.61L606.92 664.01L612.56 664.41L618.19 664.80L623.82 665.18L629.45 665.55L635.09 665.92L640.72 666.27L646.35 666.62L651.98 666.96L657.62 667.29L663.25 667.61L668.88 667.92L674.51 668.23L680.15 668.53L685.78 668.83L691.41 669.12L697.04 669.40L702.68 669.68L708.31 669.96L713.94 670.23L719.57 670.50L725.21 670.77L730.84 671.03L736.47 671.29L742.10 671.55L747.74 671.81L753.37 672.06L759.00 672.32L764.63 672.57L770.27 672.82L775.90 673.07L781.53 673.32L787.16 673.56L792.80 673.81L798.43 674.05L804.06 674.28L809.69 674.52L815.33 674.75L820.96 674.98L826.59 675.20L832.22 675.42L837.86 675.64L843.49 675.85L849.12 676.06L854.75 676.26L860.39 676.46L866.02 676.66L871.65 676.85L877.28 677.03L882.92 677.21L888.55 677.39L894.18 677.56L899.81 677.73L905.45 677.89L911.08 678.05L916.71 678.20L922.34 678.35L927.98 678.49L933.61 678.63L939.24 678.76L944.87 678.88L950.51 678.98L956.14 679.07L961.77 679.15L967.40 679.22L973.04 679.28L978.67 679.34L984.30 679.39" fill="none" stroke="#0caa0c" stroke-width="3.3" stroke-linecap="round" stroke-linejoin="round" clip-path="url(#clipb)"/>
<path d="M83.10 520.94L84.23 523.06L85.35 525.30L86.48 527.65L87.61 530.09L88.73 532.61L89.86 535.18L90.99 537.80L92.11 540.44L93.24 543.08L94.36 545.73L95.49 548.36L96.62 550.99L97.74 553.62L98.87 556.22L100.00 558.81L101.12 561.36L102.25 563.88L103.38 566.36L104.50 568.79L105.63 571.19L106.76 573.54L107.88 575.85L109.01 578.10L110.14 580.31L111.26 582.47L112.39 584.58L113.52 586.65L114.64 588.66L115.77 590.63L116.89 592.55L118.02 594.42L119.15 596.26L120.27 598.05L121.40 599.80L122.53 601.51L123.65 603.18L124.78 604.81L125.91 606.40L127.03 607.96L128.16 609.48L129.29 610.97L130.41 612.42L131.54 613.84L132.67 615.23L133.79 616.59L134.92 617.91L136.05 619.21L137.17 620.48L138.30 621.72L139.43 622.93L140.55 624.12L141.68 625.28L142.80 626.42L143.93 627.53L145.06 628.62L146.18 629.69L147.31 630.73L148.44 631.75L149.56 632.75L150.69 633.73L152.94 635.63L155.20 637.46L157.45 639.21L159.70 640.89L161.95 642.51L164.21 644.07L166.46 645.57L168.71 647.01L170.97 648.41L173.22 649.75L175.47 651.04L177.73 652.29L179.98 653.50L182.23 654.66L184.49 655.79L186.74 656.87L188.99 657.93L191.24 658.94L193.50 659.93L195.75 660.88L198.00 661.81L200.26 662.70L202.51 663.57L204.76 664.41L207.01 665.23L209.27 666.02L211.52 666.79L213.77 667.54L216.03 668.26L218.28 668.97L220.53 669.65L222.79 670.32L225.04 670.97L227.29 671.60L229.54 672.21L231.80 672.81L234.05 673.39L236.30 673.96L238.56 674.51L240.81 675.05L243.06 675.58L245.32 676.09L247.57 676.59L249.82 677.07L252.08 677.55L254.33 678.01L256.58 678.47L258.83 678.91L261.09 679.34L263.34 679.76L265.59 680.17L267.85 680.56L270.10 680.94L272.35 681.30L274.61 681.65L276.86 681.99L279.11 682.31L281.36 682.62L283.62 682.93L285.87 683.22L288.12 683.50L290.38 683.78L292.63 684.05L294.88 684.31L297.13 684.57L299.39 684.82L301.64 685.07L303.89 685.32L306.15 685.57L308.40 685.81L310.65 686.05L312.91 686.29L315.16 686.54L317.41 686.78L319.66 687.03L321.92 687.27L324.17 687.52L326.42 687.75L328.68 687.99L330.93 688.22L333.18 688.44L335.44 688.66L337.69 688.88L339.94 689.09L342.20 689.30L344.45 689.51L346.70 689.71L348.95 689.91L351.21 690.10L353.46 690.30L359.09 690.76L364.73 691.21L370.36 691.64L375.99 692.06L381.62 692.46L387.25 692.86L392.89 693.25L398.52 693.63L404.15 694.01L409.78 694.38L415.42 694.75L421.05 695.10L426.68 695.45L432.32 695.79L437.95 696.13L443.58 696.45L449.21 696.77L454.85 697.07L460.48 697.37L466.11 697.66L471.74 697.93L477.38 698.19L483.01 698.44L488.64 698.68L494.27 698.91L499.90 699.13L505.54 699.35L511.17 699.56L516.80 699.77L522.44 699.97L528.07 700.17L533.70 700.36L539.33 700.55L544.97 700.73L550.60 700.90L556.23 701.08L561.86 701.24L567.50 701.40L573.13 701.56L578.76 701.72L584.39 701.86L590.02 702.01L595.66 702.15L601.29 702.28L606.92 702.41L612.56 702.53L618.19 702.65L623.82 702.77L629.45 702.88L635.09 702.99L640.72 703.09L646.35 703.18L651.98 703.27L657.62 703.36L663.25 703.45L668.88 703.53L674.51 703.60L680.15 703.68L685.78 703.75L691.41 703.82L697.04 703.88L702.68 703.95L708.31 704.01L713.94 704.07L719.57 704.13L725.21 704.18L730.84 704.24L736.47 704.30L742.10 704.35L747.74 704.41L753.37 704.46L759.00 704.51L764.63 704.57L770.27 704.62L775.90 704.68L781.53 704.73L787.16 704.78L792.80 704.83L798.43 704.88L804.06 704.93L809.69 704.98L815.33 705.02L820.96 705.07L826.59 705.11L832.22 705.16L837.86 705.20L843.49 705.24L849.12 705.28L854.75 705.31L860.39 705.35L866.02 705.38L871.65 705.41L877.28 705.44L882.92 705.46L888.55 705.48L894.18 705.49L899.81 705.50L905.45 705.51L911.08 705.52L916.71 705.53L922.34 705.53L927.98 705.54L933.61 705.55L939.24 705.57L944.87 705.58L950.51 705.59L956.14 705.61L961.77 705.62L967.40 705.64L973.04 705.66L978.67 705.67L984.30 705.69" fill="none" stroke="#0caa0c" stroke-width="3.3" stroke-linecap="round" stroke-linejoin="round" clip-path="url(#clipb)"/>
<g font-family="'Liberation Sans', Arial, sans-serif" font-size="17.5" fill="#000" text-anchor="end">
<text x="64" y="718.6">0</text>
<text x="64" y="662.4">5</text>
<text x="64" y="606.1">10</text>
<text x="64" y="549.9">15</text>
<text x="64" y="493.7">20</text>
<text x="64" y="437.5">25</text>
<text x="64" y="381.2">30</text>
</g>
<text transform="translate(21.9 543.5) rotate(-90)" font-family="'Liberation Sans', Arial, sans-serif" font-size="21.95" text-anchor="middle" fill="#000">Denitrification efficiency (%)</text>
<circle cx="115.1" cy="39.1" r="9.3" fill="#000"/>
<path d="M117.6 395.2L127.5 405.1L117.6 415.0L107.7 405.1Z" fill="#fff" stroke="#000" stroke-width="2"/>
<text x="132.1" y="44.5" font-family="'Liberation Sans', Arial, sans-serif" fill="#000" font-size="16.5" textLength="50.2" lengthAdjust="spacingAndGlyphs">Sabella</text>
<text x="135" y="410.4" font-family="'Liberation Sans', Arial, sans-serif" fill="#000" font-size="16" textLength="44" lengthAdjust="spacingAndGlyphs">Mimic</text>
<text x="958.8" y="40.2" font-family="'Liberation Sans', Arial, sans-serif" fill="#000" font-size="25.8" textLength="13.2" lengthAdjust="spacingAndGlyphs">a</text>
<text x="957.3" y="409.9" font-family="'Liberation Sans', Arial, sans-serif" fill="#000" font-size="29.6" textLength="15.5" lengthAdjust="spacingAndGlyphs">b</text>
<text x="483.7" y="781.1" font-family="'Liberation Sans', Arial, sans-serif" fill="#000" font-size="20" textLength="99.5" lengthAdjust="spacingAndGlyphs">Nb. worms</text>
<g font-family="'Liberation Sans', Arial, sans-serif" font-size="17.5" fill="#000" text-anchor="middle">
<text x="82.7" y="741.8">0</text>
<text x="308.0" y="741.8">10</text>
<text x="533.3" y="741.8">20</text>
<text x="758.6" y="741.8">30</text>
<text x="983.9" y="741.8">40</text>
</g>
</svg>
</body></html>
